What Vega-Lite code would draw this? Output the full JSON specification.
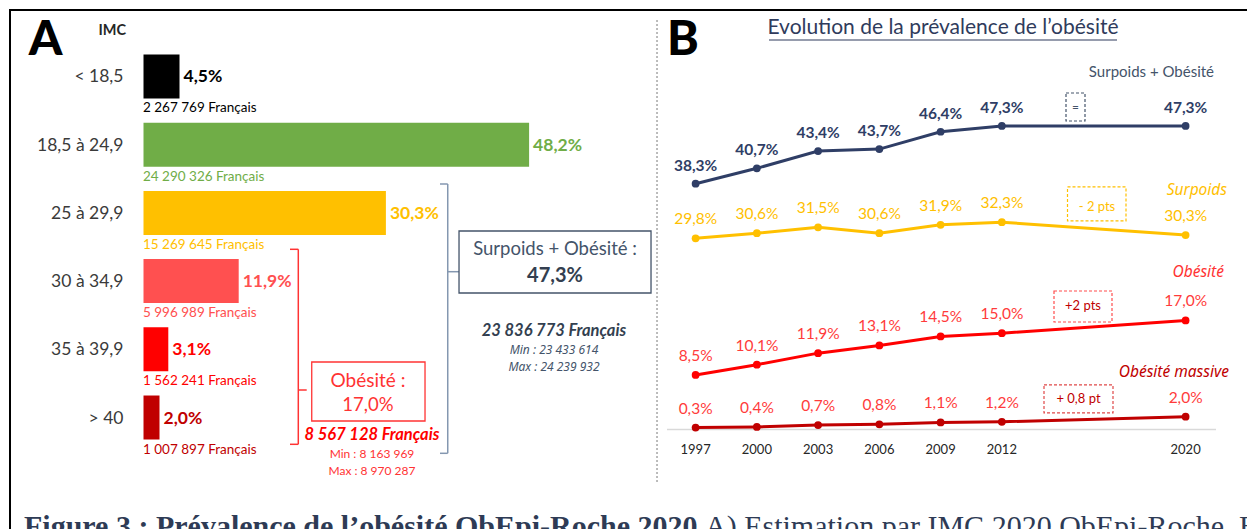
{
  "$schema": "https://vega.github.io/schema/vega-lite/v6.json",
  "width": 1240,
  "height": 522,
  "autosize": {"type": "none"},
  "padding": {"left": 10, "top": 10, "right": -3, "bottom": -3},
  "background": "#ffffff",
  "config": {
    "view": {"stroke": "#000000", "strokeWidth": 2},
    "font": "Lato",
    "text": {"font": "Lato"},
    "locale": {"number": {"decimal": ",", "thousands": " ", "grouping": [3], "currency": ["", " Français"]}}
  },
  "datasets": {
    "imc": [
      {"imc": "< 18,5", "part": 0.045, "n": 2267769},
      {"imc": "18,5 à 24,9", "part": 0.482, "n": 24290326},
      {"imc": "25 à 29,9", "part": 0.303, "n": 15269645},
      {"imc": "30 à 34,9", "part": 0.119, "n": 5996989},
      {"imc": "35 à 39,9", "part": 0.031, "n": 1562241},
      {"imc": "> 40", "part": 0.020, "n": 1007897}
    ],
    "evol": [
      {"serie": "Surpoids + Obésité", "annee": "1997", "part": 0.383},
      {"serie": "Surpoids + Obésité", "annee": "2000", "part": 0.407},
      {"serie": "Surpoids + Obésité", "annee": "2003", "part": 0.434},
      {"serie": "Surpoids + Obésité", "annee": "2006", "part": 0.437},
      {"serie": "Surpoids + Obésité", "annee": "2009", "part": 0.464},
      {"serie": "Surpoids + Obésité", "annee": "2012", "part": 0.473},
      {"serie": "Surpoids + Obésité", "annee": "2020", "part": 0.473},
      {"serie": "Surpoids", "annee": "1997", "part": 0.298},
      {"serie": "Surpoids", "annee": "2000", "part": 0.306},
      {"serie": "Surpoids", "annee": "2003", "part": 0.315},
      {"serie": "Surpoids", "annee": "2006", "part": 0.306},
      {"serie": "Surpoids", "annee": "2009", "part": 0.319},
      {"serie": "Surpoids", "annee": "2012", "part": 0.323},
      {"serie": "Surpoids", "annee": "2020", "part": 0.303},
      {"serie": "Obésité", "annee": "1997", "part": 0.085},
      {"serie": "Obésité", "annee": "2000", "part": 0.101},
      {"serie": "Obésité", "annee": "2003", "part": 0.119},
      {"serie": "Obésité", "annee": "2006", "part": 0.131},
      {"serie": "Obésité", "annee": "2009", "part": 0.145},
      {"serie": "Obésité", "annee": "2012", "part": 0.150},
      {"serie": "Obésité", "annee": "2020", "part": 0.170},
      {"serie": "Obésité massive", "annee": "1997", "part": 0.003},
      {"serie": "Obésité massive", "annee": "2000", "part": 0.004},
      {"serie": "Obésité massive", "annee": "2003", "part": 0.007},
      {"serie": "Obésité massive", "annee": "2006", "part": 0.008},
      {"serie": "Obésité massive", "annee": "2009", "part": 0.011},
      {"serie": "Obésité massive", "annee": "2012", "part": 0.012},
      {"serie": "Obésité massive", "annee": "2020", "part": 0.020}
    ]
  },
  "layer": [
    {
      "data": {"name": "imc"},
      "layer": [
        {
          "mark": {"type": "bar"},
          "encoding": {
            "y": {"field": "imc", "type": "nominal", "sort": null, "axis": null,
                  "scale": {"domain": ["< 18,5", "18,5 à 24,9", "25 à 29,9", "30 à 34,9", "35 à 39,9", "> 40"], "range": [44.5, 429.5], "paddingInner": 0.355, "paddingOuter": 0}},
            "x": {"field": "part", "type": "quantitative", "stack": null, "axis": null,
                  "scale": {"domain": [0, 0.5], "range": [133.5, 533.5], "nice": false}},
            "color": {"field": "imc", "type": "nominal", "legend": null,
                      "scale": {"domain": ["< 18,5", "18,5 à 24,9", "25 à 29,9", "30 à 34,9", "35 à 39,9", "> 40"], "range": ["#000000", "#70ad47", "#ffc000", "#ff5050", "#ff0000", "#c00000"]}}
          }
        },
        {
          "mark": {"type": "text", "align": "left", "baseline": "alphabetic", "dx": 4, "dy": 6, "fontSize": 17.5, "fontWeight": "bold"},
          "encoding": {
            "y": {"field": "imc", "type": "nominal"},
            "x": {"field": "part", "type": "quantitative"},
            "text": {"field": "part", "type": "quantitative", "format": ".1%"},
            "color": {"field": "imc", "type": "nominal", "legend": null}
          }
        },
        {
          "mark": {"type": "text", "align": "left", "baseline": "alphabetic", "dx": -0.5, "dy": 36, "fontSize": 13.5},
          "encoding": {
            "y": {"field": "imc", "type": "nominal"},
            "x": {"datum": 0, "type": "quantitative"},
            "text": {"field": "n", "type": "quantitative", "format": "$,d"},
            "color": {"field": "imc", "type": "nominal", "legend": null}
          }
        },
        {
          "mark": {"type": "text", "align": "right", "baseline": "alphabetic", "dx": -20, "dy": 6, "fontSize": 17.5, "color": "#3a3a3a"},
          "encoding": {
            "y": {"field": "imc", "type": "nominal"},
            "x": {"datum": 0, "type": "quantitative"},
            "text": {"field": "imc", "type": "nominal"}
          }
        },
        {
          "data": {"values": [{}]},
          "mark": {"type": "text", "text": "A", "align": "center", "baseline": "alphabetic", "dx": -98, "dy": -21.5, "fontSize": 48, "fontWeight": 900, "color": "#000000"},
          "encoding": {"x": {"datum": 0, "type": "quantitative"}, "y": {"datum": "< 18,5", "type": "nominal", "bandPosition": 0.5}}
        },
        {
          "data": {"values": [{}]},
          "mark": {"type": "text", "text": "IMC", "align": "right", "baseline": "alphabetic", "dx": -17.5, "dy": -41.5, "fontSize": 14.5, "fontWeight": "bold", "color": "#262626"},
          "encoding": {"x": {"datum": 0, "type": "quantitative"}, "y": {"datum": "< 18,5", "type": "nominal", "bandPosition": 0.5}}
        },
        {
          "data": {"values": [{}]},
          "mark": {"type": "rule", "color": "#8497b0", "strokeWidth": 1.5, "yOffset": -28.9, "y2Offset": 35.8},
          "encoding": {"x": {"datum": 0.3803, "type": "quantitative"}, "y": {"datum": "25 à 29,9", "type": "nominal", "bandPosition": 0.5}, "y2": {"datum": "> 40", "bandPosition": 0.5}}
        },
        {
          "data": {"values": [{}]},
          "mark": {"type": "rule", "color": "#8497b0", "strokeWidth": 1.5, "yOffset": -28.9},
          "encoding": {"x": {"datum": 0.3706, "type": "quantitative"}, "x2": {"datum": 0.3803}, "y": {"datum": "25 à 29,9", "type": "nominal", "bandPosition": 0.5}}
        },
        {
          "data": {"values": [{}]},
          "mark": {"type": "rule", "color": "#8497b0", "strokeWidth": 1.5, "yOffset": 35.8},
          "encoding": {"x": {"datum": 0.3706, "type": "quantitative"}, "x2": {"datum": 0.3803}, "y": {"datum": "> 40", "type": "nominal", "bandPosition": 0.5}}
        },
        {
          "data": {"values": [{}]},
          "mark": {"type": "rule", "color": "#8497b0", "strokeWidth": 1.5, "yOffset": -9.4},
          "encoding": {"x": {"datum": 0.3803, "type": "quantitative"}, "x2": {"datum": 0.3944}, "y": {"datum": "30 à 34,9", "type": "nominal", "bandPosition": 0.5}}
        },
        {
          "data": {"values": [{}]},
          "mark": {"type": "rule", "color": "#ff3333", "strokeWidth": 1.5, "yOffset": -31.8, "y2Offset": 26.8},
          "encoding": {"x": {"datum": 0.1935, "type": "quantitative"}, "y": {"datum": "30 à 34,9", "type": "nominal", "bandPosition": 0.5}, "y2": {"datum": "> 40", "bandPosition": 0.5}}
        },
        {
          "data": {"values": [{}]},
          "mark": {"type": "rule", "color": "#ff3333", "strokeWidth": 1.5, "yOffset": -31.8},
          "encoding": {"x": {"datum": 0.1831, "type": "quantitative"}, "x2": {"datum": 0.1935}, "y": {"datum": "30 à 34,9", "type": "nominal", "bandPosition": 0.5}}
        },
        {
          "data": {"values": [{}]},
          "mark": {"type": "rule", "color": "#ff3333", "strokeWidth": 1.5, "yOffset": 26.8},
          "encoding": {"x": {"datum": 0.1831, "type": "quantitative"}, "x2": {"datum": 0.1935}, "y": {"datum": "> 40", "type": "nominal", "bandPosition": 0.5}}
        },
        {
          "data": {"values": [{}]},
          "mark": {"type": "rule", "color": "#ff3333", "strokeWidth": 1.5, "yOffset": 40.7},
          "encoding": {"x": {"datum": 0.1935, "type": "quantitative"}, "x2": {"datum": 0.2040}, "y": {"datum": "35 à 39,9", "type": "nominal", "bandPosition": 0.5}}
        },
        {
          "data": {"values": [{}]},
          "mark": {"type": "rect", "filled": false, "stroke": "#ff3333", "strokeWidth": 1.3, "yOffset": -55.5, "y2Offset": 3.5},
          "encoding": {"x": {"datum": 0.2103, "type": "quantitative"}, "x2": {"datum": 0.3519}, "y": {"datum": "> 40", "type": "nominal", "bandPosition": 0.5}, "y2": {"datum": "> 40", "bandPosition": 0.5}}
        },
        {
          "data": {"values": [{}]},
          "mark": {"type": "rect", "filled": false, "stroke": "#44546a", "strokeWidth": 1.3, "yOffset": -50.1, "y2Offset": 11.9},
          "encoding": {"x": {"datum": 0.3944, "type": "quantitative"}, "x2": {"datum": 0.6344}, "y": {"datum": "30 à 34,9", "type": "nominal", "bandPosition": 0.5}, "y2": {"datum": "30 à 34,9", "bandPosition": 0.5}}
        },
        {
          "data": {"values": [{}]},
          "mark": {"type": "text", "text": "Obésité :", "align": "center", "baseline": "alphabetic", "dy": -30.5, "fontSize": 19, "color": "#ff3333"},
          "encoding": {"x": {"datum": 0.2806, "type": "quantitative"}, "y": {"datum": "> 40", "type": "nominal", "bandPosition": 0.5}}
        },
        {
          "data": {"values": [{}]},
          "mark": {"type": "text", "text": "17,0%", "align": "center", "baseline": "alphabetic", "dy": -6.5, "fontSize": 18.5, "color": "#ff3333"},
          "encoding": {"x": {"datum": 0.2806, "type": "quantitative"}, "y": {"datum": "> 40", "type": "nominal", "bandPosition": 0.5}}
        },
        {
          "data": {"values": [{}]},
          "mark": {"type": "text", "text": "8 567 128 Français", "align": "center", "baseline": "alphabetic", "dy": 22.5, "fontSize": 16.5, "fontWeight": "bold", "fontStyle": "italic", "color": "#ff0000"},
          "encoding": {"x": {"datum": 0.2856, "type": "quantitative"}, "y": {"datum": "> 40", "type": "nominal", "bandPosition": 0.5}}
        },
        {
          "data": {"values": [{}]},
          "mark": {"type": "text", "text": "Min : 8 163 969", "align": "center", "baseline": "alphabetic", "dy": 40.5, "fontSize": 12, "color": "#ff3333"},
          "encoding": {"x": {"datum": 0.2856, "type": "quantitative"}, "y": {"datum": "> 40", "type": "nominal", "bandPosition": 0.5}}
        },
        {
          "data": {"values": [{}]},
          "mark": {"type": "text", "text": "Max : 8 970 287", "align": "center", "baseline": "alphabetic", "dy": 57.5, "fontSize": 12, "color": "#ff3333"},
          "encoding": {"x": {"datum": 0.2856, "type": "quantitative"}, "y": {"datum": "> 40", "type": "nominal", "bandPosition": 0.5}}
        },
        {
          "data": {"values": [{}]},
          "mark": {"type": "text", "text": "Surpoids + Obésité :", "align": "center", "baseline": "alphabetic", "dy": -26, "fontSize": 18.5, "color": "#44546a"},
          "encoding": {"x": {"datum": 0.5144, "type": "quantitative"}, "y": {"datum": "30 à 34,9", "type": "nominal", "bandPosition": 0.5}}
        },
        {
          "data": {"values": [{}]},
          "mark": {"type": "text", "text": "47,3%", "align": "center", "baseline": "alphabetic", "dy": 1, "fontSize": 20, "fontWeight": "bold", "color": "#333f50"},
          "encoding": {"x": {"datum": 0.5144, "type": "quantitative"}, "y": {"datum": "30 à 34,9", "type": "nominal", "bandPosition": 0.5}}
        },
        {
          "data": {"values": [{}]},
          "mark": {"type": "text", "text": "23 836 773 Français", "align": "center", "baseline": "alphabetic", "dy": -13.3, "fontSize": 16.5, "fontWeight": "bold", "fontStyle": "italic", "color": "#333f50"},
          "encoding": {"x": {"datum": 0.5131, "type": "quantitative"}, "y": {"datum": "35 à 39,9", "type": "nominal", "bandPosition": 0.5}}
        },
        {
          "data": {"values": [{}]},
          "mark": {"type": "text", "text": "Min : 23 433 614", "align": "center", "baseline": "alphabetic", "dy": 4.7, "font": "Noto Sans", "fontSize": 12, "fontStyle": "italic", "fontWeight": "normal", "color": "#44546a"},
          "encoding": {"x": {"datum": 0.5131, "type": "quantitative"}, "y": {"datum": "35 à 39,9", "type": "nominal", "bandPosition": 0.5}}
        },
        {
          "data": {"values": [{}]},
          "mark": {"type": "text", "text": "Max : 24 239 932", "align": "center", "baseline": "alphabetic", "dy": 21.7, "font": "Noto Sans", "fontSize": 12, "fontStyle": "italic", "fontWeight": "normal", "color": "#44546a"},
          "encoding": {"x": {"datum": 0.5131, "type": "quantitative"}, "y": {"datum": "35 à 39,9", "type": "nominal", "bandPosition": 0.5}}
        },
        {
          "data": {"values": [{}]},
          "mark": {"type": "rule", "color": "#a6a6a6", "strokeWidth": 1.5, "strokeDash": [2, 2], "yOffset": -56.5, "y2Offset": 64.5},
          "encoding": {"x": {"datum": 0.6419, "type": "quantitative"}, "y": {"datum": "< 18,5", "type": "nominal", "bandPosition": 0.5}, "y2": {"datum": "> 40", "bandPosition": 0.5}}
        },
        {
          "data": {"values": [{}]},
          "mark": {"type": "text", "text": "Figure 3 : Prévalence de l’obésité ObEpi-Roche 2020.", "align": "left", "baseline": "alphabetic", "dx": -119.5, "dy": 118.5, "font": "Liberation Serif", "fontSize": 30, "fontWeight": "bold", "color": "#2e3b55"},
          "encoding": {"x": {"datum": 0, "type": "quantitative"}, "y": {"datum": "> 40", "type": "nominal", "bandPosition": 0.5}}
        },
        {
          "data": {"values": [{}]},
          "mark": {"type": "text", "text": "A) Estimation par IMC 2020 ObEpi-Roche. B) Evolution de la prévalence", "align": "left", "baseline": "alphabetic", "dx": 561.5, "dy": 118.5, "font": "Liberation Serif", "fontSize": 30, "color": "#2e3b55"},
          "encoding": {"x": {"datum": 0, "type": "quantitative"}, "y": {"datum": "> 40", "type": "nominal", "bandPosition": 0.5}}
        }
      ]
    },
    {
      "data": {"name": "evol"},
      "layer": [
        {
          "data": {"values": [{}]},
          "mark": {"type": "rule", "color": "#d9d9d9", "strokeWidth": 1.5, "xOffset": -28.6, "x2Offset": 30.4},
          "encoding": {
            "x": {"datum": "1997", "type": "ordinal", "axis": null,
                  "scale": {"type": "point", "domain": ["1997", "2000", "2003", "2006", "2009", "2012", "gap1", "gap2", "2020"], "range": [685.6, 1175.6], "padding": 0}},
            "x2": {"datum": "2020"},
            "y": {"datum": 0, "type": "quantitative", "axis": null,
                  "scale": {"domain": [0, 0.5], "range": [419.5, 98.65], "nice": false}}
          }
        },
        {
          "mark": {"type": "line", "strokeWidth": 3},
          "encoding": {
            "x": {"field": "annee", "type": "ordinal"},
            "y": {"field": "part", "type": "quantitative"},
            "color": {"field": "serie", "type": "nominal", "legend": null,
                      "scale": {"domain": ["Surpoids + Obésité", "Surpoids", "Obésité", "Obésité massive"], "range": ["#2f3e66", "#ffc000", "#ff0000", "#c00000"]}}
          }
        },
        {
          "mark": {"type": "point", "filled": true, "size": 60, "opacity": 1},
          "encoding": {
            "x": {"field": "annee", "type": "ordinal"},
            "y": {"field": "part", "type": "quantitative"},
            "color": {"field": "serie", "type": "nominal", "legend": null}
          }
        },
        {
          "transform": [{"filter": "datum.serie == 'Surpoids + Obésité'"}],
          "mark": {"type": "text", "align": "center", "baseline": "alphabetic", "dy": -13, "fontSize": 15.5, "fontWeight": "bold"},
          "encoding": {
            "x": {"field": "annee", "type": "ordinal"},
            "y": {"field": "part", "type": "quantitative"},
            "text": {"field": "part", "type": "quantitative", "format": ".1%"},
            "fill": {"field": "serie", "type": "nominal", "legend": null,
                     "scale": {"domain": ["Surpoids + Obésité", "Surpoids", "Obésité", "Obésité massive"], "range": ["#2f3e66", "#ffc000", "#ff3b3b", "#ff3b3b"]}}
          }
        },
        {
          "transform": [{"filter": "datum.serie != 'Surpoids + Obésité'"}],
          "mark": {"type": "text", "align": "center", "baseline": "alphabetic", "dy": -14, "fontSize": 15.5},
          "encoding": {
            "x": {"field": "annee", "type": "ordinal"},
            "y": {"field": "part", "type": "quantitative"},
            "text": {"field": "part", "type": "quantitative", "format": ".1%"},
            "fill": {"field": "serie", "type": "nominal", "legend": null}
          }
        },
        {
          "transform": [{"filter": "datum.serie == 'Obésité massive'"}],
          "mark": {"type": "text", "align": "center", "baseline": "alphabetic", "dy": 24.5, "fontSize": 13, "color": "#262626"},
          "encoding": {
            "x": {"field": "annee", "type": "ordinal"},
            "y": {"datum": 0, "type": "quantitative"},
            "text": {"field": "annee", "type": "ordinal"}
          }
        },
        {
          "data": {"values": [{}]},
          "mark": {"type": "text", "text": "Surpoids + Obésité", "align": "right", "baseline": "alphabetic", "dx": 28.4, "dy": -49, "fontSize": 15, "color": "#44546a"},
          "encoding": {"x": {"datum": "2020", "type": "ordinal"}, "y": {"datum": 0.473, "type": "quantitative"}}
        },
        {
          "data": {"values": [{}]},
          "mark": {"type": "text", "text": "Surpoids", "align": "right", "baseline": "alphabetic", "dx": 41.4, "dy": -40.1, "font": "Noto Sans", "fontSize": 15.5, "fontStyle": "italic", "fontWeight": "normal", "color": "#ffc000"},
          "encoding": {"x": {"datum": "2020", "type": "ordinal"}, "y": {"datum": 0.303, "type": "quantitative"}}
        },
        {
          "data": {"values": [{}]},
          "mark": {"type": "text", "text": "Obésité", "align": "right", "baseline": "alphabetic", "dx": 38.4, "dy": -43.4, "font": "Noto Sans", "fontSize": 15.5, "fontStyle": "italic", "fontWeight": "normal", "color": "#ff3333"},
          "encoding": {"x": {"datum": "2020", "type": "ordinal"}, "y": {"datum": 0.17, "type": "quantitative"}}
        },
        {
          "data": {"values": [{}]},
          "mark": {"type": "text", "text": "Obésité massive", "align": "right", "baseline": "alphabetic", "dx": 43.4, "dy": -39.7, "font": "Noto Sans", "fontSize": 15.5, "fontStyle": "italic", "fontWeight": "normal", "color": "#c00000"},
          "encoding": {"x": {"datum": "2020", "type": "ordinal"}, "y": {"datum": 0.02, "type": "quantitative"}}
        },
        {
          "data": {"values": [{}]},
          "mark": {"type": "rect", "filled": false, "stroke": "#44546a", "strokeWidth": 1.2, "strokeDash": [3, 2], "xOffset": 2.9, "x2Offset": 21.9, "yOffset": -33, "y2Offset": -5},
          "encoding": {"x": {"datum": "gap1", "type": "ordinal"}, "x2": {"datum": "gap1"}, "y": {"datum": 0.473, "type": "quantitative"}, "y2": {"datum": 0.473}}
        },
        {
          "data": {"values": [{}]},
          "mark": {"type": "rect", "filled": false, "stroke": "#ffc000", "strokeWidth": 1.2, "strokeDash": [3, 2], "xOffset": 4.4, "x2Offset": 62.9, "yOffset": -48.1, "y2Offset": -14.1},
          "encoding": {"x": {"datum": "gap1", "type": "ordinal"}, "x2": {"datum": "gap1"}, "y": {"datum": 0.303, "type": "quantitative"}, "y2": {"datum": 0.303}}
        },
        {
          "data": {"values": [{}]},
          "mark": {"type": "rect", "filled": false, "stroke": "#ff4d4d", "strokeWidth": 1.2, "strokeDash": [3, 2], "xOffset": -9.1, "x2Offset": 48.9, "yOffset": -29.4, "y2Offset": 1.6},
          "encoding": {"x": {"datum": "gap1", "type": "ordinal"}, "x2": {"datum": "gap1"}, "y": {"datum": 0.17, "type": "quantitative"}, "y2": {"datum": 0.17}}
        },
        {
          "data": {"values": [{}]},
          "mark": {"type": "rect", "filled": false, "stroke": "#e04848", "strokeWidth": 1.2, "strokeDash": [3, 2], "xOffset": -19.1, "x2Offset": 49.9, "yOffset": -31.7, "y2Offset": -3.7},
          "encoding": {"x": {"datum": "gap1", "type": "ordinal"}, "x2": {"datum": "gap1"}, "y": {"datum": 0.02, "type": "quantitative"}, "y2": {"datum": 0.02}}
        },
        {
          "data": {"values": [{}]},
          "mark": {"type": "text", "text": "=", "align": "center", "baseline": "middle", "dx": 12.4, "dy": -19, "fontSize": 12, "color": "#44546a"},
          "encoding": {"x": {"datum": "gap1", "type": "ordinal"}, "y": {"datum": 0.473, "type": "quantitative"}}
        },
        {
          "data": {"values": [{}]},
          "mark": {"type": "text", "text": "- 2 pts", "align": "center", "baseline": "middle", "dx": 33.9, "dy": -28.1, "fontSize": 13, "color": "#ffc000"},
          "encoding": {"x": {"datum": "gap1", "type": "ordinal"}, "y": {"datum": 0.303, "type": "quantitative"}}
        },
        {
          "data": {"values": [{}]},
          "mark": {"type": "text", "text": "+2 pts", "align": "center", "baseline": "middle", "dx": 19.9, "dy": -14.4, "fontSize": 13, "color": "#c00000"},
          "encoding": {"x": {"datum": "gap1", "type": "ordinal"}, "y": {"datum": 0.17, "type": "quantitative"}}
        },
        {
          "data": {"values": [{}]},
          "mark": {"type": "text", "text": "+ 0,8 pt", "align": "center", "baseline": "middle", "dx": 15.4, "dy": -17.7, "fontSize": 13, "color": "#c00000"},
          "encoding": {"x": {"datum": "gap1", "type": "ordinal"}, "y": {"datum": 0.02, "type": "quantitative"}}
        },
        {
          "data": {"values": [{}]},
          "mark": {"type": "text", "text": "B", "align": "center", "baseline": "alphabetic", "dx": -12.6, "dy": -53.65, "fontSize": 48, "fontWeight": 900, "color": "#000000"},
          "encoding": {"x": {"datum": "1997", "type": "ordinal"}, "y": {"datum": 0.5, "type": "quantitative"}}
        },
        {
          "data": {"values": [{}]},
          "mark": {"type": "text", "text": "Evolution de la prévalence de l’obésité", "align": "center", "baseline": "alphabetic", "dx": 63.65, "dy": -74.65, "fontSize": 21, "color": "#2f3b5c"},
          "encoding": {"x": {"datum": "2006", "type": "ordinal"}, "y": {"datum": 0.5, "type": "quantitative"}}
        },
        {
          "data": {"values": [{}]},
          "mark": {"type": "rule", "color": "#2f3b5c", "strokeWidth": 1.2, "xOffset": 12.15, "x2Offset": 115.15, "yOffset": -68.65},
          "encoding": {"x": {"datum": "2000", "type": "ordinal"}, "x2": {"datum": "2012"}, "y": {"datum": 0.5, "type": "quantitative"}}
        }
      ]
    }
  ],
  "resolve": {"scale": {"x": "independent", "y": "independent", "color": "independent", "fill": "independent"}}
}
